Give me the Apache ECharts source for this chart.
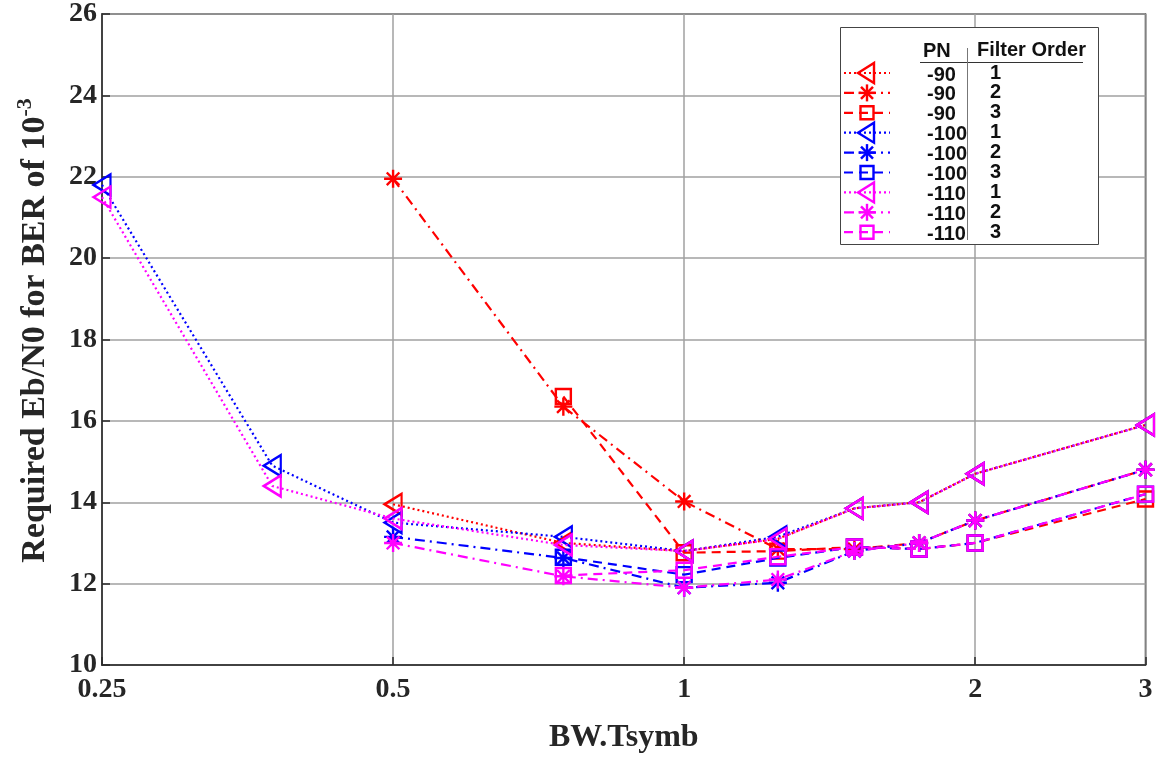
<!DOCTYPE html>
<html>
<head>
<meta charset="utf-8">
<script src="https://cdn.jsdelivr.net/npm/echarts@6/dist/echarts.min.js"></script>
<style>
  html, body { margin: 0; padding: 0; background: #fff; }
  #chart { width: 1166px; height: 759px; }
</style>
</head>
<body>
<div id="chart"></div>
<script>
// BW.Tsymb sample points (log axis)
const bwTsymb = [0.25, 0.375, 0.5, 0.75, 1, 1.25, 1.5, 1.75, 2, 3];

// Required Eb/N0 (dB) for BER of 1e-3, per phase-noise level and filter order
const pn90_order1  = [null, null, 13.95, 13.0, 12.8, 13.1, 13.85, 14.0, 14.7, 15.9];
const pn90_order2  = [null, null, 21.95, 16.35, 14.02, 12.85, 12.85, 13.0, 13.55, 14.8];
const pn90_order3  = [null, null, null, 16.6, 12.76, 12.8, 12.9, 12.85, 13.0, 14.08];
const pn100_order1 = [21.8, 14.9, 13.5, 13.15, 12.8, 13.15, 13.85, 14.0, 14.7, 15.9];
const pn100_order2 = [null, null, 13.15, 12.63, 11.9, 12.02, 12.8, 13.0, 13.55, 14.8];
const pn100_order3 = [null, null, null, 12.65, 12.22, 12.63, 12.9, 12.85, 13.0, 14.2];
const pn110_order1 = [21.5, 14.4, 13.6, 12.95, 12.8, 13.1, 13.85, 14.0, 14.7, 15.9];
const pn110_order2 = [null, null, 13.0, 12.18, 11.9, 12.1, 12.8, 13.0, 13.55, 14.8];
const pn110_order3 = [null, null, null, 12.2, 12.33, 12.66, 12.9, 12.85, 13.0, 14.2];

// Axis ranges and tick labels
const yTicks = [10, 12, 14, 16, 18, 20, 22, 24, 26];
const xTickLabels = ['0.25', '0.5', '1', '2', '3'];

const pnLabels = ['-90', '-90', '-90', '-100', '-100', '-100', '-110', '-110', '-110'];
const orderLabels = ['1', '2', '3', '1', '2', '3', '1', '2', '3'];
const curves = [pn90_order1, pn90_order2, pn90_order3,
                pn100_order1, pn100_order2, pn100_order3,
                pn110_order1, pn110_order2, pn110_order3];
const colors = ['#ff0000', '#ff0000', '#ff0000',
                '#0000ff', '#0000ff', '#0000ff',
                '#ff00ff', '#ff00ff', '#ff00ff'];

// filter order -> line dash and marker
const dashByOrder = { '1': [2, 3], '2': [10, 5, 2, 5], '3': [9, 6] };
const asterisk = 'path://M10,0 L10,20 M0,10 L20,10 M3,3 L17,17 M3,17 L17,3';
const markerByOrder = {
  '1': { symbol: 'triangle', symbolSize: [21, 17], symbolRotate: 90 },
  '2': { symbol: asterisk, symbolSize: 18, symbolRotate: 0 },
  '3': { symbol: 'rect', symbolSize: 15, symbolRotate: 0 }
};

const serif = 'Liberation Serif';
const sans = 'Liberation Sans';

const names = curves.map((_, i) => 'PN ' + pnLabels[i] + ' / order ' + orderLabels[i]);

const series = curves.map((vals, i) => {
  const ord = orderLabels[i];
  const m = markerByOrder[ord];
  const data = [];
  bwTsymb.forEach((x, k) => { if (vals[k] !== null) data.push([x, vals[k]]); });
  return {
    name: names[i],
    type: 'line',
    data: data,
    symbol: m.symbol,
    symbolSize: m.symbolSize,
    symbolRotate: m.symbolRotate,
    showAllSymbol: true,
    lineStyle: { color: colors[i], width: 2.2, type: dashByOrder[ord], cap: 'butt' },
    itemStyle: { color: 'rgba(0,0,0,0)', borderColor: colors[i], borderWidth: 2.4 },
    emphasis: { disabled: true },
    animation: false,
    z: 3 + i * 0.01
  };
});

// Legend table: box, header, one row per curve (line sample + marker + PN + order)
const legendBox = { x: 840.5, y: 27.5, w: 258, h: 217 };
const rowY0 = 73, rowStep = 19.9;
const legendFont = { fontFamily: sans, fontWeight: 'bold', fontSize: 20, fill: '#111' };
const legendGraphics = [
  { type: 'rect', z: 50, shape: { x: legendBox.x, y: legendBox.y, width: legendBox.w, height: legendBox.h },
    style: { fill: '#ffffff', stroke: '#444444', lineWidth: 1 } },
  { type: 'text', z: 52, x: 923, y: 51,
    style: Object.assign({ text: 'PN', textVerticalAlign: 'middle' }, legendFont) },
  { type: 'text', z: 52, x: 977, y: 50,
    style: Object.assign({ text: 'Filter Order', textVerticalAlign: 'middle' }, legendFont) },
  { type: 'line', z: 52, shape: { x1: 920, y1: 62.5, x2: 1083, y2: 62.5 },
    style: { stroke: '#333', lineWidth: 1 } },
  { type: 'line', z: 52, shape: { x1: 967.5, y1: 48, x2: 967.5, y2: 240 },
    style: { stroke: '#777', lineWidth: 1 } }
];
curves.forEach((_, i) => {
  const y = rowY0 + rowStep * i;
  const c = colors[i];
  const ord = orderLabels[i];
  const cx = 867;
  const mStyle = { fill: 'none', stroke: c, lineWidth: 2.4 };
  legendGraphics.push({ type: 'line', z: 51, shape: { x1: 844, y1: y, x2: 890, y2: y },
    style: { stroke: c, lineWidth: 2.2, lineDash: dashByOrder[ord] } });
  if (ord === '1') {
    legendGraphics.push({ type: 'polygon', z: 52,
      shape: { points: [[cx - 9, y], [cx + 7, y - 10], [cx + 7, y + 10]] }, style: mStyle });
  } else if (ord === '2') {
    const r = 8.5, d = 6;
    [[0, -r, 0, r], [-r, 0, r, 0], [-d, -d, d, d], [-d, d, d, -d]].forEach(s => {
      legendGraphics.push({ type: 'line', z: 52,
        shape: { x1: cx + s[0], y1: y + s[1], x2: cx + s[2], y2: y + s[3] }, style: mStyle });
    });
  } else {
    legendGraphics.push({ type: 'rect', z: 52,
      shape: { x: cx - 6.5, y: y - 6.5, width: 13, height: 13 }, style: mStyle });
  }
  legendGraphics.push({ type: 'text', z: 52, x: 927, y: y + 2,
    style: Object.assign({ text: pnLabels[i], textVerticalAlign: 'middle' }, legendFont) });
  legendGraphics.push({ type: 'text', z: 52, x: 990, y: y,
    style: Object.assign({ text: orderLabels[i], textVerticalAlign: 'middle' }, legendFont) });
});

const chart = echarts.init(document.getElementById('chart'), null, { renderer: 'canvas' });

const tickStyle = {
  fontFamily: serif, fontWeight: 'bold', fontSize: 28, color: '#262626'
};

chart.setOption({
  backgroundColor: '#ffffff',
  animation: false,
  grid: {
    left: 102, right: 20.5, top: 8, bottom: 93,
    show: true, borderColor: '#2a2a2a', borderWidth: 1.5, backgroundColor: 'transparent'
  },
  xAxis: {
    type: 'log', logBase: 2, min: 0.25, max: 3,
    axisLine: { show: true, lineStyle: { color: '#2a2a2a', width: 1.5 } },
    axisTick: { show: true, inside: true, length: 8, lineStyle: { color: '#2a2a2a', width: 1.5 } },
    splitLine: { show: true, lineStyle: { color: '#a0a0a0', width: 1.5 } },
    minorTick: { show: false },
    axisLabel: Object.assign({
      margin: 11,
      formatter: v => {
        const r = +(+v).toPrecision(6);
        const hit = xTickLabels.find(t => Math.abs(+t - r) < 1e-6);
        return hit || '';
      }
    }, tickStyle),
    name: 'BW.Tsymb', nameLocation: 'middle', nameGap: 57,
    nameTextStyle: { fontFamily: serif, fontWeight: 'bold', fontSize: 32, color: '#262626' }
  },
  yAxis: {
    type: 'value', min: yTicks[0], max: yTicks[yTicks.length - 1], interval: 2,
    axisLine: { show: true, lineStyle: { color: '#2a2a2a', width: 1.5 } },
    axisTick: { show: true, inside: true, length: 8, lineStyle: { color: '#2a2a2a', width: 1.5 } },
    splitLine: { show: true, lineStyle: { color: '#a0a0a0', width: 1.5 } },
    axisLabel: Object.assign({ margin: 5 }, tickStyle),
    name: '{b|Required Eb/N0 for BER of 10}{s|-3}',
    nameLocation: 'middle', nameGap: 50,
    nameTextStyle: {
      color: '#262626',
      padding: [0, 0, 0, 18],
      rich: {
        b: { fontFamily: serif, fontWeight: 'bold', fontSize: 34, color: '#262626', verticalAlign: 'bottom' },
        s: { fontFamily: serif, fontWeight: 'bold', fontSize: 22, color: '#262626', verticalAlign: 'bottom', padding: [0, 0, 16, 0] }
      }
    }
  },
  graphic: legendGraphics,
  series: series
});
</script>
</body>
</html>
